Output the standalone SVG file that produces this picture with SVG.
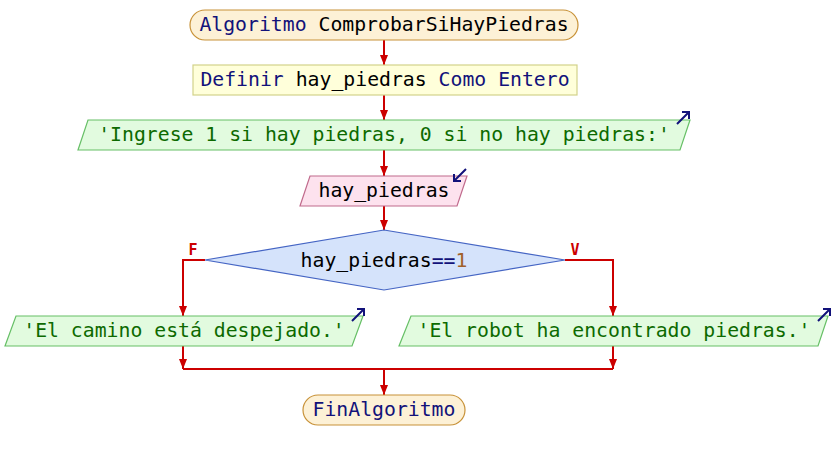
<svg xmlns="http://www.w3.org/2000/svg" width="834" height="460" viewBox="0 0 834 460">
  <style>
    text { font-family: "DejaVu Sans Mono", "Liberation Mono", monospace; font-size: 19.8px; text-anchor: middle; }
    .kw { fill: #12127a; }
    .id { fill: #000000; }
    .str { fill: #0d6a00; }
    .num { fill: #a0602a; }
    .term { fill: #fdf1d6; stroke: #c89238; stroke-width: 1.2; }
    .def { fill: #ffffda; stroke: #d2d28a; stroke-width: 1.2; }
    .out { fill: #e2fbdf; stroke: #66bf66; stroke-width: 1.2; }
    .inp { fill: #fde2ee; stroke: #c06a8c; stroke-width: 1.2; }
    .cond { fill: #d5e3fb; stroke: #4565c4; stroke-width: 1.2; }
    .flow { fill: none; stroke: #cc0000; stroke-width: 2; }
    .lbl { fill: #cc0000; font-size: 15px; font-weight: bold; }
    .io { fill: none; stroke: #12127a; stroke-width: 2; }
  </style>
  <defs>
    <marker id="arr" viewBox="0 0 10 8" refX="10" refY="4" markerWidth="10" markerHeight="8" markerUnits="userSpaceOnUse" orient="auto">
      <path d="M0,0 L10,4 L0,8 Z" fill="#cc0000"/>
    </marker>
  </defs>

  <g id="connectors">
    <line class="flow" x1="384" y1="40" x2="384" y2="65" marker-end="url(#arr)"/>
    <line class="flow" x1="384" y1="95" x2="384" y2="120" marker-end="url(#arr)"/>
    <line class="flow" x1="384" y1="150" x2="384" y2="176" marker-end="url(#arr)"/>
    <line class="flow" x1="384" y1="206" x2="384" y2="230" marker-end="url(#arr)"/>
    <polyline class="flow" points="205,260 183,260 183,316" marker-end="url(#arr)"/>
    <polyline class="flow" points="565,260 613,260 613,316" marker-end="url(#arr)"/>
    <line class="flow" x1="183" y1="346" x2="183" y2="369" marker-end="url(#arr)"/>
    <line class="flow" x1="613" y1="346" x2="613" y2="369" marker-end="url(#arr)"/>
    <line class="flow" x1="183" y1="369" x2="613" y2="369"/>
    <line class="flow" x1="384" y1="369" x2="384" y2="395" marker-end="url(#arr)"/>
    <text class="lbl" x="193" y="255">F</text>
    <text class="lbl" x="575" y="255">V</text>
  </g>

  <g id="start">
    <rect class="term" x="190" y="10" width="388" height="30" rx="15" ry="15"/>
    <text x="384" y="31"><tspan class="kw">Algoritmo</tspan><tspan class="id"> ComprobarSiHayPiedras</tspan></text>
  </g>

  <g id="define">
    <rect class="def" x="193" y="65" width="384" height="30"/>
    <text x="385" y="86"><tspan class="kw">Definir</tspan><tspan class="id"> hay_piedras </tspan><tspan class="kw">Como Entero</tspan></text>
  </g>

  <g id="prompt">
    <polygon class="out" points="88,120 690,120 680,150 78,150"/>
    <text class="str" x="384" y="141">'Ingrese 1 si hay piedras, 0 si no hay piedras:'</text>
    <path class="io" d="M677,124 L689,112 M682,112 L689,112 L689,119"/>
  </g>

  <g id="read">
    <polygon class="inp" points="310,176 467,176 457,206 300,206"/>
    <text class="id" x="384" y="197">hay_piedras</text>
    <path class="io" d="M466,169 L454,181 M454,174 L454,181 L461,181"/>
  </g>

  <g id="decision">
    <polygon class="cond" points="384,230 565,260 384,290 205,260"/>
    <text x="384" y="267"><tspan class="id">hay_piedras</tspan><tspan class="kw">==</tspan><tspan class="num">1</tspan></text>
  </g>

  <g id="clear">
    <polygon class="out" points="16,316 363,316 352,346 5,346"/>
    <text class="str" x="184" y="337">'El camino está despejado.'</text>
    <path class="io" d="M352,321 L364,309 M357,309 L364,309 L364,316"/>
  </g>

  <g id="stones">
    <polygon class="out" points="411,316 828,316 818,346 399,346"/>
    <text class="str" x="614" y="337">'El robot ha encontrado piedras.'</text>
    <path class="io" d="M818,321 L830,309 M823,309 L830,309 L830,316"/>
  </g>

  <g id="end">
    <rect class="term" x="303" y="395" width="162" height="30" rx="15" ry="15"/>
    <text class="kw" x="384" y="416">FinAlgoritmo</text>
  </g>
</svg>
